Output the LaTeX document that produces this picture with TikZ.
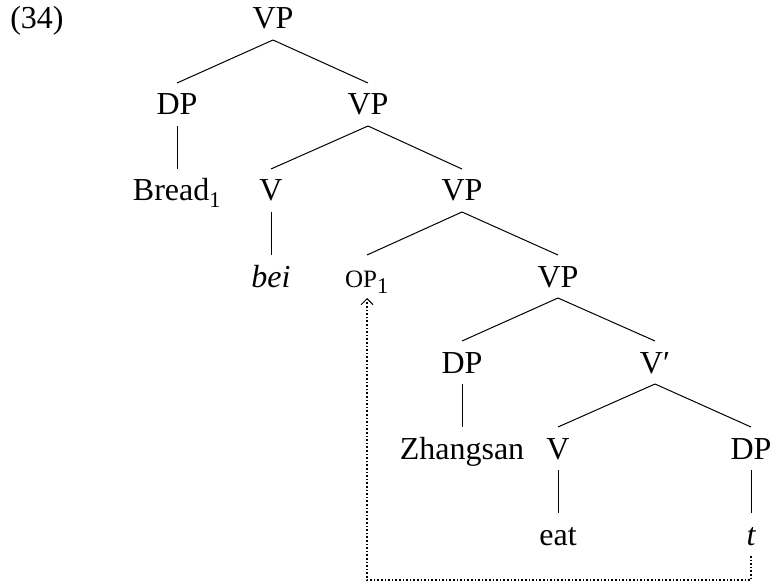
\documentclass[tikz,border=0pt]{standalone}
\usepackage{fontspec}
\setmainfont{Liberation Serif}
\usetikzlibrary{arrows.meta}

\tikzset{
  lbl/.style={anchor=base, inner sep=0pt, text height=21pt, text depth=0pt,
    outer xsep=0pt, outer ysep=11pt},
  branch/.style={line width=1pt},
  movement/.style={dotted, line width=1.6pt,
    -{Straight Barb[length=6pt, width=12pt, line width=1pt]}},
}
\newcommand{\opsc}{{\fontsize{25}{28}\selectfont OP}}

\begin{document}
\begin{tikzpicture}[x=1pt, y=-1pt, font=\fontsize{32}{38}\selectfont]
  \useasboundingbox (0,0) rectangle (770,585);

  % example number
  \node[lbl] (num) at (37,29) {(34)};

  % nodes, level by level (baselines 86pt apart)
  \node[lbl] (vp0)  at (273,29)  {VP};

  \node[lbl] (dp1)  at (177,115) {DP};
  \node[lbl] (vp1)  at (368,115) {VP};

  \node[lbl] (bread) at (177,201) {Bread\textsubscript{1}};
  \node[lbl] (v2)   at (271,201) {V};
  \node[lbl] (vp2)  at (462,201) {VP};

  \node[lbl] (bei)  at (271,287) {\itshape bei};
  \node[lbl] (op)   at (367,287) {\opsc\textsubscript{1}};
  \node[lbl] (vp3)  at (558,287) {VP};

  \node[lbl] (dp4)  at (462,373) {DP};
  \node[lbl] (vbar) at (655,373) {V′};

  \node[lbl] (zs)   at (462,459) {Zhangsan};
  \node[lbl] (v5)   at (558,459) {V};
  \node[lbl] (dp5)  at (751,459) {DP};

  \node[lbl] (eat)  at (558,545) {eat};
  \node[lbl] (tr)   at (751,545) {\itshape t};

  % branches
  \draw[branch] (vp0.south) -- (dp1.north);
  \draw[branch] (vp0.south) -- (vp1.north);
  \draw[branch] (dp1.south) -- (bread.north);
  \draw[branch] (vp1.south) -- (v2.north);
  \draw[branch] (vp1.south) -- (vp2.north);
  \draw[branch] (v2.south)  -- (bei.north);
  \draw[branch] (vp2.south) -- (op.north);
  \draw[branch] (vp2.south) -- (vp3.north);
  \draw[branch] (vp3.south) -- (dp4.north);
  \draw[branch] (vp3.south) -- (vbar.north);
  \draw[branch] (dp4.south) -- (zs.north);
  \draw[branch] (vbar.south) -- (v5.north);
  \draw[branch] (vbar.south) -- (dp5.north);
  \draw[branch] (v5.south)  -- (eat.north);
  \draw[branch] (dp5.south) -- (tr.north);

  % movement of the operator from the trace position
  \coordinate (low) at (751,580);
  \draw[movement] (tr.south) -- (low) -| (op.south);
\end{tikzpicture}
\end{document}
